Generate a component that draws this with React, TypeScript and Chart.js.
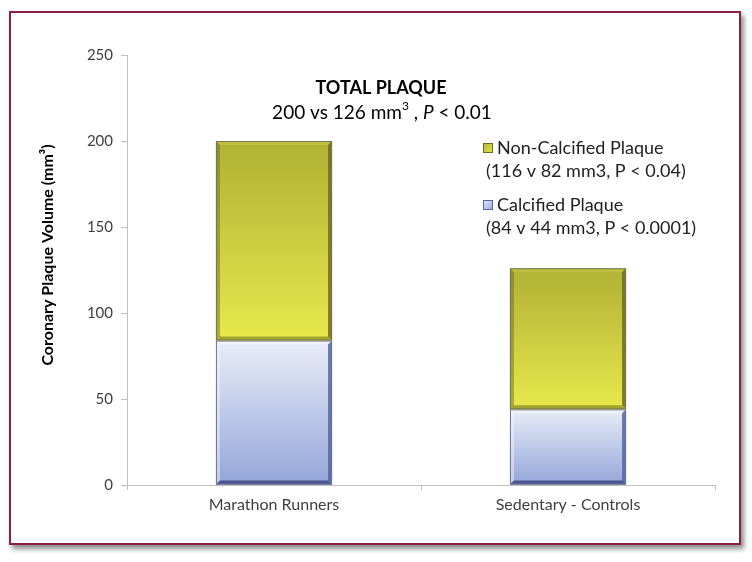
import React, { useEffect, useRef } from "react";
import { Chart, registerables } from "chart.js";

Chart.register(...registerables);

const categories = ["Marathon Runners", "Sedentary - Controls"];
const calcified = [84, 44];
const nonCalcified = [116, 82];
const yTicks = [0, 50, 100, 150, 200, 250];
const seriesNames = ["Calcified Plaque", "Non-Calcified Plaque"];
const legendNotes = ["(84 v 44 mm3, P < 0.0001)", "(116 v 82 mm3, P < 0.04)"];
const titleText = "TOTAL PLAQUE";
const yTitle = "Coronary Plaque Volume (mm³)";

const FONT = "Lato, 'Open Sans', sans-serif";

const barStyles = [
  { top: "#e9edf8", bottom: "#93a6d9", light: "#f4f6fc", dark: "#55659f", bottomEdge: "#3f4d88", outline: "#6b7598" },
  { top: "#b0b034", bottom: "#e8e84c", light: "#c6c644", dark: "#6b6b22", bottomEdge: "#9a9a2c", outline: "#77775a" },
];

const decorPlugin = {
  id: "decor",
  afterDatasetsDraw(chart: any) {
    const ctx = chart.ctx as CanvasRenderingContext2D;
    chart.data.datasets.forEach((ds: any, di: number) => {
      const meta = chart.getDatasetMeta(di);
      const st = barStyles[di];
      meta.data.forEach((el: any) => {
        const w = el.width;
        const x0 = el.x - w / 2;
        const x1 = el.x + w / 2;
        const yT = Math.min(el.y, el.base);
        const yB = Math.max(el.y, el.base);
        const h = yB - yT;
        ctx.save();
        const g = ctx.createLinearGradient(0, yT, 0, yB);
        g.addColorStop(0, st.top);
        g.addColorStop(1, st.bottom);
        ctx.fillStyle = g;
        ctx.fillRect(x0, yT, w, h);
        const b = 4;
        ctx.fillStyle = st.light;
        ctx.globalAlpha = 0.7;
        ctx.beginPath();
        ctx.moveTo(x0, yT); ctx.lineTo(x1, yT); ctx.lineTo(x1 - b, yT + b); ctx.lineTo(x0 + b, yT + b); ctx.closePath();
        ctx.fill();
        ctx.globalAlpha = 0.5;
        ctx.fillStyle = di === 0 ? st.light : st.dark;
        ctx.beginPath();
        ctx.moveTo(x0, yT); ctx.lineTo(x0 + b, yT + b); ctx.lineTo(x0 + b, yB - b); ctx.lineTo(x0, yB); ctx.closePath();
        ctx.fill();
        ctx.globalAlpha = 0.85;
        ctx.fillStyle = st.dark;
        ctx.beginPath();
        ctx.moveTo(x1, yT); ctx.lineTo(x1 - b, yT + b); ctx.lineTo(x1 - b, yB - b); ctx.lineTo(x1, yB); ctx.closePath();
        ctx.fill();
        ctx.globalAlpha = 0.9;
        ctx.fillStyle = st.bottomEdge;
        ctx.beginPath();
        ctx.moveTo(x0, yB); ctx.lineTo(x0 + b, yB - b); ctx.lineTo(x1 - b, yB - b); ctx.lineTo(x1, yB); ctx.closePath();
        ctx.fill();
        ctx.globalAlpha = 1;
        ctx.strokeStyle = st.outline;
        ctx.lineWidth = 1;
        ctx.strokeRect(x0 + 0.5, yT + 0.5, w - 1, h - 1);
        ctx.restore();
      });
    });

    ctx.save();
    ctx.fillStyle = "#000000";
    ctx.textAlign = "center";
    ctx.textBaseline = "middle";
    ctx.font = `bold 18px ${FONT}`;
    ctx.fillText(titleText, 381, 88);

    const parts: { t: string; f: string; dy: number }[] = [
      { t: "200 vs 126 mm", f: `19px ${FONT}`, dy: 0 },
      { t: "3", f: `12px ${FONT}`, dy: -7 },
      { t: " , ", f: `19px ${FONT}`, dy: 0 },
      { t: "P", f: `italic 19px ${FONT}`, dy: 0 },
      { t: " < 0.01", f: `19px ${FONT}`, dy: 0 },
    ];
    let total = 0;
    parts.forEach((p) => { ctx.font = p.f; total += ctx.measureText(p.t).width; });
    let x = 382 - total / 2;
    ctx.textAlign = "left";
    parts.forEach((p) => {
      ctx.font = p.f;
      ctx.fillText(p.t, x, 113 + p.dy);
      x += ctx.measureText(p.t).width;
    });

    ctx.save();
    ctx.translate(48, 255);
    ctx.rotate(-Math.PI / 2);
    ctx.textAlign = "center";
    ctx.font = `bold 16px ${FONT}`;
    ctx.fillText(yTitle, 0, 0);
    ctx.restore();

    const rows = [
      { di: 1, y: 148 },
      { di: 0, y: 205 },
    ];
    ctx.font = `18px ${FONT}`;
    ctx.textBaseline = "middle";
    rows.forEach((r) => {
      const st = barStyles[r.di];
      const sx = 483, sy = r.y - 5, s = 10;
      const g2 = ctx.createLinearGradient(sx, sy, sx + s, sy + s);
      g2.addColorStop(0, st.top);
      g2.addColorStop(1, st.bottom);
      ctx.fillStyle = g2;
      ctx.fillRect(sx, sy, s, s);
      ctx.strokeStyle = st.dark;
      ctx.lineWidth = 1;
      ctx.strokeRect(sx + 0.5, sy + 0.5, s - 1, s - 1);
      ctx.fillStyle = "#222222";
      ctx.fillText(seriesNames[r.di], 497, r.y);
      ctx.fillText(legendNotes[r.di], 486, r.y + 23);
    });
    ctx.restore();
  },
};

export default function App() {
  const ref = useRef<HTMLCanvasElement>(null);
  useEffect(() => {
    if (!ref.current) return;
    const chart = new Chart(ref.current, {
      type: "bar",
      data: {
        labels: categories,
        datasets: [
          { label: seriesNames[0], data: calcified, backgroundColor: "rgba(0,0,0,0)", borderWidth: 0, barPercentage: 0.79, categoryPercentage: 0.5 },
          { label: seriesNames[1], data: nonCalcified, backgroundColor: "rgba(0,0,0,0)", borderWidth: 0, barPercentage: 0.79, categoryPercentage: 0.5 },
        ],
      },
      options: {
        animation: false,
        responsive: false,
        maintainAspectRatio: false,
        layout: { padding: { left: 0, right: 37, top: 55, bottom: 0 } },
        plugins: { legend: { display: false }, tooltip: { enabled: false }, title: { display: false } },
        scales: {
          x: {
            stacked: true,
            offset: true,
            grid: { display: true, drawOnChartArea: false, offset: true, color: "#bfbfbf", tickLength: 5 },
            border: { color: "#bfbfbf" },
            ticks: { color: "#404040", font: { family: FONT, size: 16 }, padding: 5 },
            afterFit: (s: any) => { s.height = 77; },
          },
          y: {
            stacked: true,
            min: 0,
            max: 250,
            afterBuildTicks: (s: any) => { s.ticks = yTicks.map((v) => ({ value: v })); },
            grid: { display: true, drawOnChartArea: false, color: "#bfbfbf", tickLength: 6 },
            border: { color: "#bfbfbf" },
            ticks: { color: "#404040", font: { family: FONT, size: 15 }, padding: 8 },
            afterFit: (s: any) => { s.width = 127; },
          },
        },
      },
      plugins: [decorPlugin],
    });
    return () => chart.destroy();
  }, []);

  return (
    <div style={{ position: "fixed", left: 0, top: 0, width: 752, height: 562, background: "#ffffff" }}>
      <div
        style={{
          position: "absolute",
          left: 9,
          top: 11,
          width: 728,
          height: 530,
          border: "2px solid #8c1d44",
          boxShadow: "3px 4px 5px rgba(0,0,0,0.45)",
          background: "#ffffff",
        }}
      />
      <canvas ref={ref} width={752} height={562} style={{ position: "absolute", left: 0, top: 0, width: 752, height: 562 }} />
    </div>
  );
}
